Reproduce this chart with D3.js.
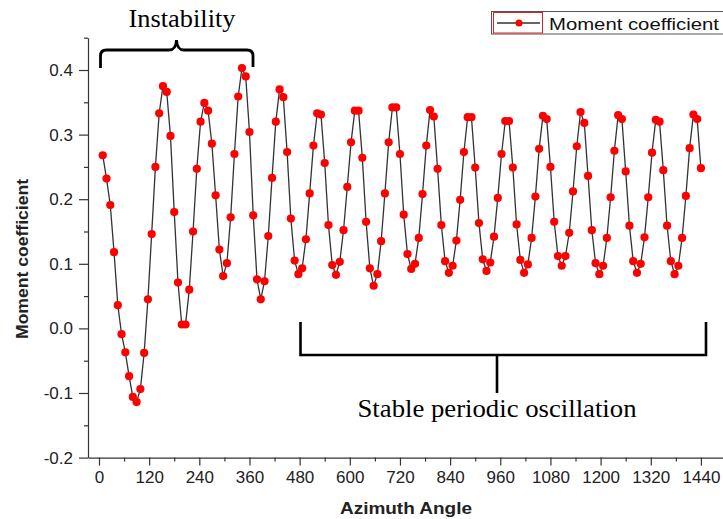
<!DOCTYPE html>
<html><head><meta charset="utf-8">
<script src="https://cdn.jsdelivr.net/npm/d3@7/dist/d3.min.js"></script>
<style>
html,body{margin:0;padding:0;background:#fff;}
svg{display:block;}
.sans{font-family:"Liberation Sans",Arial,sans-serif;}
.serif{font-family:"Liberation Serif","Times New Roman",serif;}
</style></head>
<body>
<svg id="chart" width="723" height="519"></svg>
<script>
// Azimuth angles (deg) of the sampled points
const angles = [9,18,27,36,45,54,63,72,81,90,99,108,117,126,135,144,153,162,171,180,
189,198,207,216,225,234,243,252,261,270,279,288,297,306,315,324,333,342,351,360,
369,378,387,396,405,414,423,432,441,450,459,468,477,486,495,504,513,522,531,540,
549,558,567,576,585,594,603,612,621,630,639,648,657,666,675,684,693,702,711,720,
729,738,747,756,765,774,783,792,801,810,819,828,837,846,855,864,873,882,891,900,
909,918,927,936,945,954,963,972,981,990,999,1008,1017,1026,1035,1044,1053,1062,1071,1080,
1089,1098,1107,1116,1125,1134,1143,1152,1161,1170,1179,1188,1197,1206,1215,1224,1233,1242,1251,1260,
1269,1278,1287,1296,1305,1314,1323,1332,1341,1350,1359,1368,1377,1386,1395,1404,1413,1422,1431,1440];
// Moment coefficient values
const moment = [0.268,0.232,0.191,0.118,0.036,-0.009,-0.037,-0.074,-0.106,-0.114,
-0.094,-0.038,0.045,0.146,0.250,0.333,0.375,0.366,0.298,0.180,
0.071,0.006,0.006,0.060,0.150,0.247,0.320,0.349,0.337,0.286,
0.206,0.122,0.081,0.101,0.172,0.270,0.359,0.403,0.390,0.304,
0.175,0.076,0.045,0.073,0.143,0.233,0.320,0.370,0.358,0.273,
0.170,0.105,0.084,0.093,0.138,0.209,0.283,0.333,0.331,0.256,
0.160,0.098,0.083,0.103,0.152,0.219,0.288,0.337,0.337,0.264,
0.165,0.093,0.066,0.084,0.135,0.209,0.288,0.342,0.342,0.270,
0.176,0.115,0.092,0.100,0.140,0.208,0.283,0.338,0.328,0.247,
0.160,0.104,0.086,0.097,0.136,0.199,0.273,0.327,0.327,0.249,
0.163,0.107,0.089,0.102,0.142,0.202,0.270,0.321,0.321,0.249,
0.161,0.106,0.086,0.099,0.140,0.204,0.278,0.329,0.324,0.250,
0.165,0.112,0.097,0.112,0.148,0.212,0.282,0.335,0.318,0.236,
0.152,0.101,0.084,0.097,0.140,0.203,0.275,0.330,0.324,0.243,
0.159,0.104,0.086,0.100,0.141,0.203,0.272,0.323,0.320,0.245,
0.159,0.104,0.084,0.097,0.140,0.205,0.279,0.331,0.324,0.248];
const xTicks = [0,120,240,360,480,600,720,840,960,1080,1200,1320,1440];
const xMinor = [60,180,300,420,540,660,780,900,1020,1140,1260,1380];
const yTicks = [-0.2,-0.1,0.0,0.1,0.2,0.3,0.4];
const yMinor = [-0.15,-0.05,0.05,0.15,0.25,0.35,0.45];
const seriesName = "Moment coefficient";
const xTitle = "Azimuth Angle";
const yTitle = "Moment coefficient";
const noteTop = "Instability";
const noteBottom = "Stable periodic oscillation";

const svg = d3.select("#chart");
svg.append("rect").attr("width",723).attr("height",519).attr("fill","#fff");

const x = d3.scaleLinear().domain([-26.3, 1493.3]).range([88, 723.2]);
const y = d3.scaleLinear().domain([-0.2, 0.45]).range([457.6, 37.7]);

const axisColor = "#333";
const yFmt = v => v.toFixed(1).replace("\u2212","-");
// x axis
const gx = svg.append("g").attr("transform","translate(0,457.6)");
gx.call(d3.axisBottom(x).tickValues(xTicks).tickFormat(d=>String(d)).tickSize(8).tickPadding(5).tickSizeOuter(0));
const gxm = svg.append("g").attr("transform","translate(0,457.6)");
gxm.call(d3.axisBottom(x).tickValues(xMinor).tickFormat("").tickSize(4).tickSizeOuter(0));
gxm.select(".domain").remove();
// y axis
const gy = svg.append("g").attr("transform","translate(88,0)");
gy.call(d3.axisLeft(y).tickValues(yTicks).tickFormat(yFmt).tickSize(9).tickPadding(6).tickSizeOuter(0));
const gym = svg.append("g").attr("transform","translate(88,0)");
gym.call(d3.axisLeft(y).tickValues(yMinor).tickFormat("").tickSize(4).tickSizeOuter(0));
gym.select(".domain").remove();

svg.selectAll(".domain").attr("stroke",axisColor).attr("stroke-width",1.2);
svg.selectAll(".tick line").attr("stroke",axisColor).attr("stroke-width",1.2);
svg.selectAll(".tick text").attr("fill","#222").attr("font-size",17)
  .style("font-family","'Liberation Sans',Arial,sans-serif");

// axis titles
svg.append("text").attr("class","sans").attr("x",406).attr("y",514).attr("text-anchor","middle")
  .attr("font-size",17).attr("font-weight","bold").attr("fill","#222")
  .attr("textLength",132).attr("lengthAdjust","spacingAndGlyphs").text(xTitle);
svg.append("text").attr("class","sans").attr("transform","translate(28,259) rotate(-90)").attr("text-anchor","middle")
  .attr("font-size",16).attr("font-weight","bold").attr("fill","#222")
  .attr("textLength",160).attr("lengthAdjust","spacingAndGlyphs").text(yTitle);

// series line
const data = angles.map((a,i)=>({a:a, v:moment[i]}));
svg.append("path").datum(data)
  .attr("fill","none").attr("stroke","#333").attr("stroke-width",1.3)
  .attr("d", d3.line().x(d=>x(d.a)).y(d=>y(d.v)));
svg.append("g").selectAll("circle").data(data).join("circle")
  .attr("cx",d=>x(d.a)).attr("cy",d=>y(d.v)).attr("r",4.1).attr("fill","#ff0000");

// annotations
svg.append("path")
  .attr("d","M100.5,68 L100.5,56 Q100.5,50 106.5,50 L169,50 Q176,50 176.5,40 Q177,50 184,50 L247,50 Q253,50 253,56 L253,67")
  .attr("fill","none").attr("stroke","#000").attr("stroke-width",2.8);
svg.append("text").attr("class","serif").attr("x",182).attr("y",27).attr("text-anchor","middle")
  .attr("font-size",26).attr("fill","#000")
  .attr("textLength",107).attr("lengthAdjust","spacingAndGlyphs").text(noteTop);
svg.append("path")
  .attr("d","M300.5,322 L300.5,355 L706,355 L706,322 M497,355 L497,393")
  .attr("fill","none").attr("stroke","#000").attr("stroke-width",2.6);
svg.append("text").attr("class","serif").attr("x",497).attr("y",417).attr("text-anchor","middle")
  .attr("font-size",26).attr("fill","#000")
  .attr("textLength",279).attr("lengthAdjust","spacingAndGlyphs").text(noteBottom);

// legend
const lg = svg.append("g");
lg.append("rect").attr("x",491.5).attr("y",11.5).attr("width",240).attr("height",22.5)
  .attr("fill","#fff").attr("stroke","#555").attr("stroke-width",1);
lg.append("rect").attr("x",493.5).attr("y",12.5).attr("width",49).attr("height",20.5)
  .attr("fill","none").attr("stroke","#d22").attr("stroke-width",1);
lg.append("line").attr("x1",497).attr("x2",540).attr("y1",23).attr("y2",23)
  .attr("stroke","#333").attr("stroke-width",1.3);
lg.append("circle").attr("cx",519).attr("cy",23).attr("r",3.5).attr("fill","#ff0000");
lg.append("text").attr("class","sans").attr("x",549).attr("y",29.5).attr("font-size",16).attr("fill","#111")
  .attr("textLength",170).attr("lengthAdjust","spacingAndGlyphs").text(seriesName);
</script>
</body></html>
